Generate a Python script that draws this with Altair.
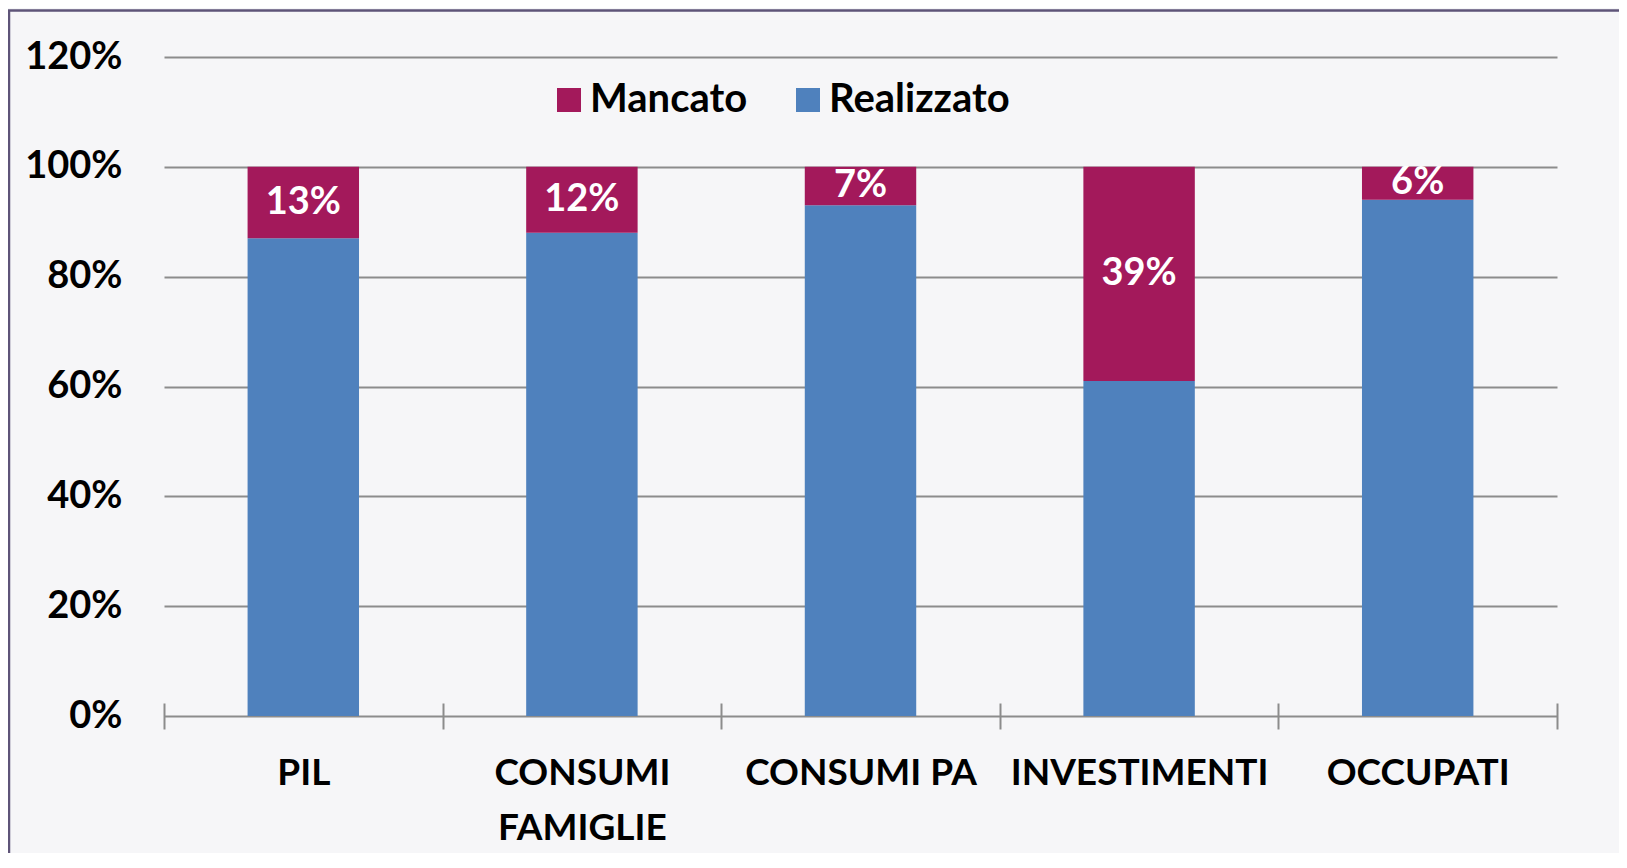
import altair as alt
import pandas as pd

categories = ["PIL", "CONSUMI FAMIGLIE", "CONSUMI PA", "INVESTIMENTI", "OCCUPATI"]
realizzato = [0.87, 0.88, 0.93, 0.61, 0.94]
mancato = [0.13, 0.12, 0.07, 0.39, 0.06]
series = ["Mancato", "Realizzato"]
colors = ["#A3195B", "#4F81BD"]
y_ticks = [0, 0.2, 0.4, 0.6, 0.8, 1.0, 1.2]

rows = []
for c, r, m in zip(categories, realizzato, mancato):
    rows.append({"cat": c, "serie": "Realizzato", "value": r, "ord": 0})
    rows.append({"cat": c, "serie": "Mancato", "value": m, "ord": 1})
df = pd.DataFrame(rows)

FONT = "Lato"

base = alt.Chart(df).transform_stack(
    stack="value", groupby=["cat"], as_=["y0", "y1"],
    sort=[alt.SortField("ord", order="ascending")]
).transform_calculate(mid="(datum.y0 + datum.y1) / 2")

xenc = alt.X("cat:N", sort=categories, title=None,
             scale=alt.Scale(paddingInner=0, paddingOuter=0),
             axis=alt.Axis(domain=False, ticks=True, tickBand="extent",
                           tickSize=26, offset=-13, tickColor="#8C8C8C", tickWidth=2,
                           labelAngle=0, labelFont=FONT, labelFontSize=37,
                           labelFontWeight="bold", labelColor="#000000",
                           labelPadding=26, labelLineHeight=55, labelLimit=0,
                           labelExpr="datum.label == 'CONSUMI FAMIGLIE' ? ['CONSUMI', 'FAMIGLIE'] : datum.label",
                           grid=False))

bars = base.mark_bar(width=alt.RelativeBandSize(0.4)).encode(
    x=xenc,
    y=alt.Y("y0:Q", title=None,
            scale=alt.Scale(domain=[0, 1.2], nice=False),
            axis=alt.Axis(values=y_ticks, format=".0%", domain=False, ticks=False,
                          labelFont=FONT, labelFontSize=38, labelFontWeight="bold",
                          labelColor="#000000", labelPadding=42,
                          grid=True, gridColor="#8C8C8C", gridWidth=2)),
    y2="y1:Q",
    color=alt.Color("serie:N", scale=alt.Scale(domain=series, range=colors),
                    legend=alt.Legend(title=None, orient="none", direction="horizontal",
                                      legendX=385, legendY=23, symbolType="square",
                                      symbolSize=576, symbolStrokeWidth=0,
                                      labelFont=FONT, labelFontSize=40, labelFontWeight="bold",
                                      labelColor="#000000", labelOffset=1, labelLimit=0,
                                      columnPadding=40, padding=0)),
)

labels = base.transform_filter("datum.serie == 'Mancato'").mark_text(
    font=FONT, fontSize=38, fontWeight="bold", color="#FFFFFF", baseline="middle"
).encode(
    x=alt.X("cat:N", sort=categories),
    y=alt.Y("mid:Q"),
    text=alt.Text("value:Q", format=".0%"),
)

frame = alt.Chart(pd.DataFrame({"k": [0]})).mark_rect(
    fillOpacity=0, stroke="#5E5478", strokeWidth=2.5, clip=False
).encode(x=alt.value(-155), x2=alt.value(1500), y=alt.value(-46.5), y2=alt.value(900))

chart = alt.layer(bars, labels, frame).properties(
    width=1393, height=659,
    padding={"left": 156, "top": 49, "right": 62, "bottom": 137},
    autosize=alt.AutoSizeParams(type="none"),
    background="#F6F6F8",
).configure_view(stroke=None)

chart.save("out.html", embed_options={"renderer": "svg", "actions": False})
